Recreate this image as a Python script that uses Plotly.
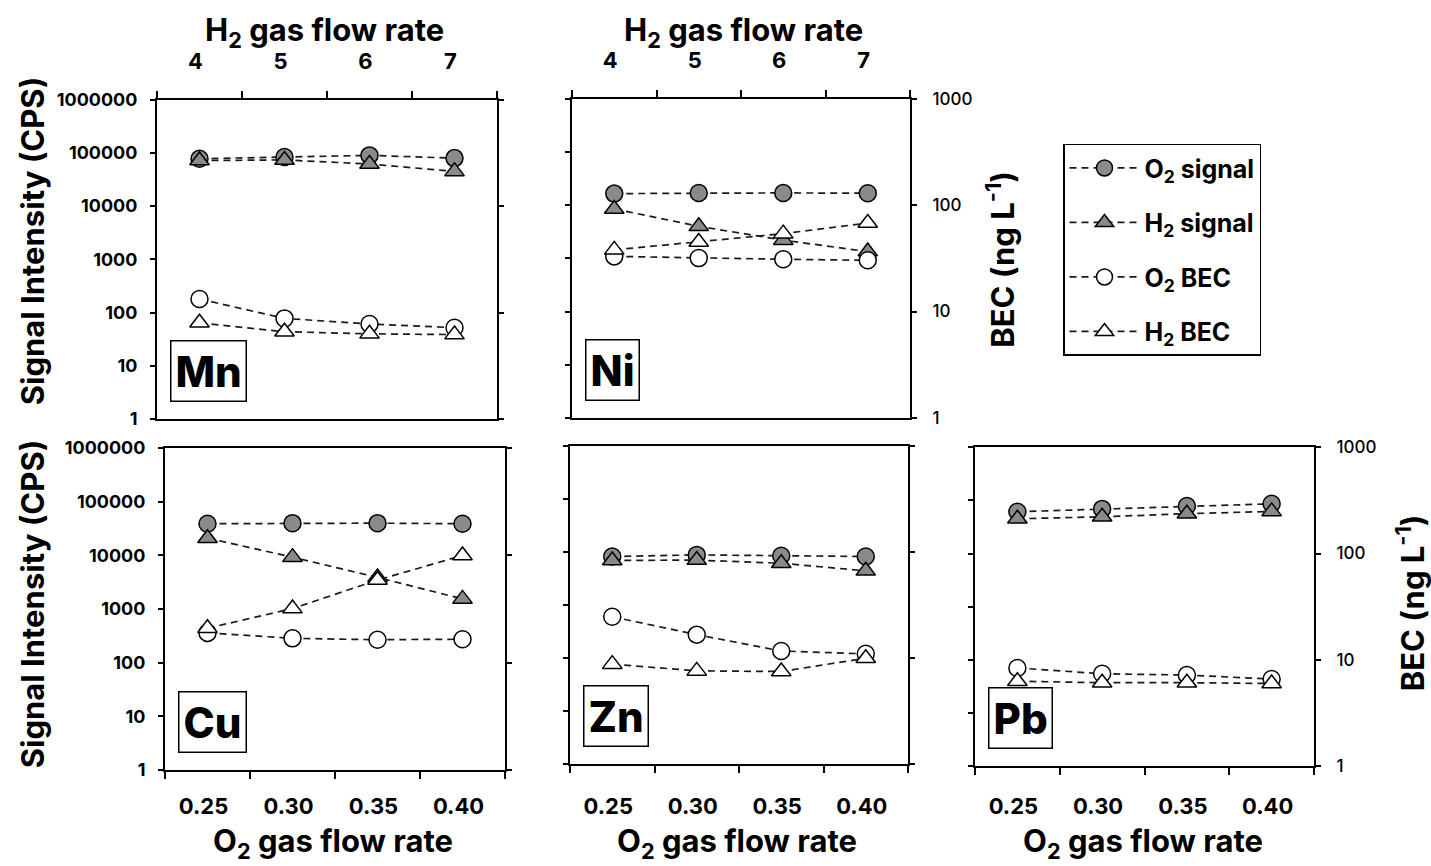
import plotly.graph_objects as go

# ---- data -------------------------------------------------------------
ELEMENTS = ["Mn", "Ni", "Cu", "Zn", "Pb"]
H2_FLOW_LABELS = ["4", "5", "6", "7"]
O2_FLOW_LABELS = ["0.25", "0.30", "0.35", "0.40"]

SIGNAL_TICKS = [1, 10, 100, 1000, 10000, 100000, 1000000]
SIGNAL_TICK_TEXT = ["1", "10", "100", "1000", "10000", "100000", "1000000"]
BEC_TICKS = [1, 10, 100, 1000]
BEC_TICK_TEXT = ["1", "10", "100", "1000"]

# signal intensity (CPS) at the four flow-rate steps
O2_SIGNAL = {
    "Mn": [78000, 84000, 90000, 80000],
    "Ni": [16500, 17000, 17000, 16800],
    "Cu": [39000, 40000, 40000, 39000],
    "Zn": [8300, 8900, 8600, 8300],
    "Pb": [61000, 69000, 78000, 86000],
}
H2_SIGNAL = {
    "Mn": [72000, 74000, 62000, 45000],
    "Ni": [8500, 4000, 2200, 1340],
    "Cu": [21000, 9300, 3900, 1550],
    "Zn": [7000, 7100, 6200, 4450],
    "Pb": [45000, 49000, 56000, 62000],
}
# background equivalent concentration (ng/L)
O2_BEC = {
    "Mn": [13.4, 8.8, 7.8, 7.2],
    "Ni": [33, 31.8, 31, 30.3],
    "Cu": [19, 16.9, 16.4, 16.6],
    "Zn": [24.6, 16.7, 11.7, 11.0],
    "Pb": [8.4, 7.4, 7.2, 6.6],
}
H2_BEC = {
    "Mn": [8.0, 6.6, 6.3, 6.2],
    "Ni": [38, 45, 54, 68],
    "Cu": [21, 32, 59, 100],
    "Zn": [8.8, 7.6, 7.5, 10],
    "Pb": [6.3, 6.1, 6.1, 6.0],
}

# ---- layout geometry (pixels) ----------------------------------------
W, H = 1431, 866
PANEL_BOX = {  # left, right, top, bottom
    "Mn": (157, 497, 91, 418),
    "Ni": (572, 910, 90, 417),
    "Cu": (165, 505, 448, 778),
    "Zn": (570, 908, 446, 772),
    "Pb": (975, 1314, 447, 774),
}
# gap between the flow-rate axis line and its tick labels
X_LABEL_GAP = {"Mn": 20, "Ni": 20, "Cu": 15, "Zn": 21, "Pb": 19}
TOP_ROW = {"Mn", "Ni"}
LEFT_LABELS = {"Mn", "Cu"}
RIGHT_LABELS = {"Ni", "Pb"}

FONT = "Inter"
GRAY = "#8a8a8a"
LINE = dict(color="#1a1a1a", width=1.7, dash="7px,5px")

SERIES = [
    ("O<sub>2</sub> signal", O2_SIGNAL, "circle", GRAY, "signal"),
    ("H<sub>2</sub> signal", H2_SIGNAL, "triangle-up", GRAY, "signal"),
    ("O<sub>2</sub> BEC", O2_BEC, "circle", "white", "bec"),
    ("H<sub>2</sub> BEC", H2_BEC, "triangle-up", "white", "bec"),
]


def ax_key(kind, n):
    return f"{kind}axis" if n == 1 else f"{kind}axis{n}"


def ax_ref(kind, n):
    return kind if n == 1 else f"{kind}{n}"


fig = go.Figure()
layout = {}
annotations = []

for k, el in enumerate(ELEMENTS):
    xn = k + 1
    y_sig, y_bec, y_sig_in, y_bec_in = 4 * k + 1, 4 * k + 2, 4 * k + 3, 4 * k + 4
    left, right, top, bottom = PANEL_BOX[el]
    xdom = [left / W, right / W]
    ydom = [1 - bottom / H, 1 - top / H]
    top_row = el in TOP_ROW
    cats = H2_FLOW_LABELS if top_row else O2_FLOW_LABELS
    positions = list(range(len(cats)))

    for name, table, symbol, fill, kind in SERIES:
        fig.add_trace(go.Scatter(
            x=positions, y=table[el],
            xaxis=ax_ref("x", xn),
            yaxis=ax_ref("y", y_sig if kind == "signal" else y_bec),
            mode="lines+markers", name=name, legendgroup=name,
            showlegend=(k == 0),
            line=LINE,
            marker=dict(symbol=symbol, size=17, color=fill,
                        line=dict(color="black", width=1.5)),
            cliponaxis=False,
        ))

    layout[ax_key("x", xn)] = dict(
        domain=xdom, anchor=ax_ref("y", y_sig), side="top" if top_row else "bottom",
        range=[-0.5, len(cats) - 0.5], tickmode="array", tickvals=positions,
        ticktext=cats, ticks="", ticklabelstandoff=X_LABEL_GAP[el],
        ticklabelshift=-4,
        tickfont=dict(family=FONT, size=22, color="black", weight="bold"),
        minor=dict(tickmode="array", tickvals=[p - 0.5 for p in positions] + [len(cats) - 0.5],
                   ticks="outside", ticklen=7, tickwidth=1.8, tickcolor="black"),
        showline=True, linewidth=2, linecolor="black", mirror=True,
        showgrid=False, zeroline=False, fixedrange=True,
    )
    common_y = dict(type="log", showgrid=False, zeroline=False, fixedrange=True,
                    tickmode="array", tickwidth=1.8, tickcolor="black")
    layout[ax_key("y", y_sig)] = dict(
        common_y, domain=ydom, anchor=ax_ref("x", xn), side="left",
        range=[0, 6], tickvals=SIGNAL_TICKS, ticktext=SIGNAL_TICK_TEXT,
        ticks="outside", ticklen=5, showticklabels=el in LEFT_LABELS,
        ticklabelstandoff=9,
        tickfont=dict(family=FONT, size=18, color="black", weight="bold"),
        showline=True, linewidth=2, linecolor="black",
    )
    layout[ax_key("y", y_bec)] = dict(
        common_y, overlaying=ax_ref("y", y_sig), anchor=ax_ref("x", xn), side="right",
        range=[0, 3], tickvals=BEC_TICKS, ticktext=BEC_TICK_TEXT,
        ticks="outside", ticklen=5, showticklabels=el in RIGHT_LABELS,
        ticklabelstandoff=12,
        tickfont=dict(family=FONT, size=17, color="black", weight=500),
        showline=True, linewidth=2, linecolor="black",
    )
    # inner halves of the crossing tick marks
    layout[ax_key("y", y_sig_in)] = dict(
        common_y, overlaying=ax_ref("y", y_sig), anchor=ax_ref("x", xn), side="left",
        range=[0, 6], tickvals=SIGNAL_TICKS, ticks="inside", ticklen=5,
        showticklabels=False, showline=False,
    )
    layout[ax_key("y", y_bec_in)] = dict(
        common_y, overlaying=ax_ref("y", y_sig), anchor=ax_ref("x", xn), side="right",
        range=[0, 3], tickvals=BEC_TICKS, ticks="inside", ticklen=5,
        showticklabels=False, showline=False,
    )

    # element tag in the lower-left corner
    annotations.append(dict(
        text=el, xref=f"{ax_ref('x', xn)} domain", yref=f"{ax_ref('y', y_sig)} domain",
        x=0, y=0, xanchor="left", yanchor="bottom", xshift=13, yshift=17,
        showarrow=False, font=dict(family=FONT, size=42, color="black", weight=800),
        bordercolor="black", borderwidth=1.5, borderpad=4, bgcolor="white",
    ))

TITLE_FONT = dict(family=FONT, size=31, color="black", weight="bold")
axis_titles = [
    ("H<sub>2</sub> gas flow rate", 324, 22, 0),
    ("H<sub>2</sub> gas flow rate", 743, 22, 0),
    ("O<sub>2</sub> gas flow rate", 333, 853, 0),
    ("O<sub>2</sub> gas flow rate", 737, 853, 0),
    ("O<sub>2</sub> gas flow rate", 1143, 853, 0),
    ("Signal Intensity (CPS)", 32, 236, -90),
    ("Signal Intensity (CPS)", 32, 608, -90),
    ("BEC (ng L<sup>-1</sup>)", 1001, 255, -90),
    ("BEC (ng L<sup>-1</sup>)", 1410, 607, -90),
]
for text, px, py, angle in axis_titles:
    annotations.append(dict(
        text=text, xref="paper", yref="paper", x=px / W, y=1 - py / H,
        xanchor="center", yanchor="middle", textangle=angle,
        showarrow=False, font=TITLE_FONT,
    ))

fig.update_layout(
    **layout,
    width=W, height=H,
    margin=dict(l=0, r=0, t=0, b=0),
    paper_bgcolor="white", plot_bgcolor="rgba(0,0,0,0)",
    annotations=annotations,
    showlegend=True,
    legend=dict(
        x=1063 / W, y=1 - 136 / H, xanchor="left", yanchor="top",
        bordercolor="black", borderwidth=1.5, bgcolor="white",
        font=dict(family=FONT, size=25, color="black", weight="bold"),
        tracegroupgap=19, itemwidth=70,
        entrywidth=200, entrywidthmode="pixels",
    ),
)

fig.write_html("out.html")
